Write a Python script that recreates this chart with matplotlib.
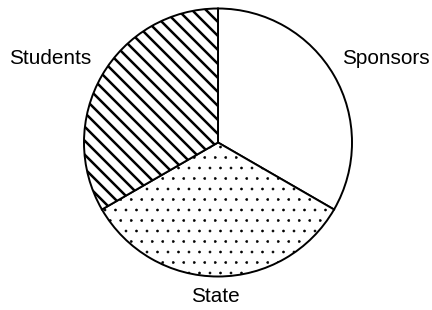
import matplotlib
matplotlib.use("Agg")
import matplotlib.pyplot as plt

labels = ["Sponsors", "State", "Students"]
shares = [1, 1, 1]
hatches = ["", "..", "\\\\\\"]

DPI = 126  # hatch spacing scales with dpi
k = 100 / DPI  # convert sizes tuned at 100 dpi
hatch_widths = [1.0 * k, 0.4 * k, 1.8 * k]

plt.rcParams['font.family'] = ['Liberation Sans', 'DejaVu Sans']
plt.rcParams['hatch.linewidth'] = 1.8 * k

fig = plt.figure(figsize=(432 / DPI, 310 / DPI), dpi=DPI)
# circle: center (218, 142.5) px, radius 134 px
r = 134
ax = fig.add_axes([(218 - r) / 432, (310 - 142.5 - r) / 310, 2 * r / 432, 2 * r / 310])

wedges, _ = ax.pie(shares, startangle=90, counterclock=False, radius=1,
                   colors=["white"] * 3,
                   wedgeprops=dict(edgecolor="black", linewidth=1.4 * k))
for w, h, lw in zip(wedges, hatches, hatch_widths):
    w.set_hatch(h)
    if hasattr(w, "set_hatch_linewidth"):
        w.set_hatch_linewidth(lw)

ax.set_xlim(-1, 1)
ax.set_ylim(-1, 1)
ax.set_aspect("auto")
ax.axis("off")

# labels
fs = 15 * k
fig.text(386 / 432, 1 - 58 / 310, labels[0], ha="center", va="center", fontsize=fs)
fig.text(215 / 432, 1 - 296 / 310, labels[1], ha="center", va="center", fontsize=fs)
fig.text(50 / 432, 1 - 58 / 310, labels[2], ha="center", va="center", fontsize=fs)

fig.savefig("out.png", dpi=DPI)
